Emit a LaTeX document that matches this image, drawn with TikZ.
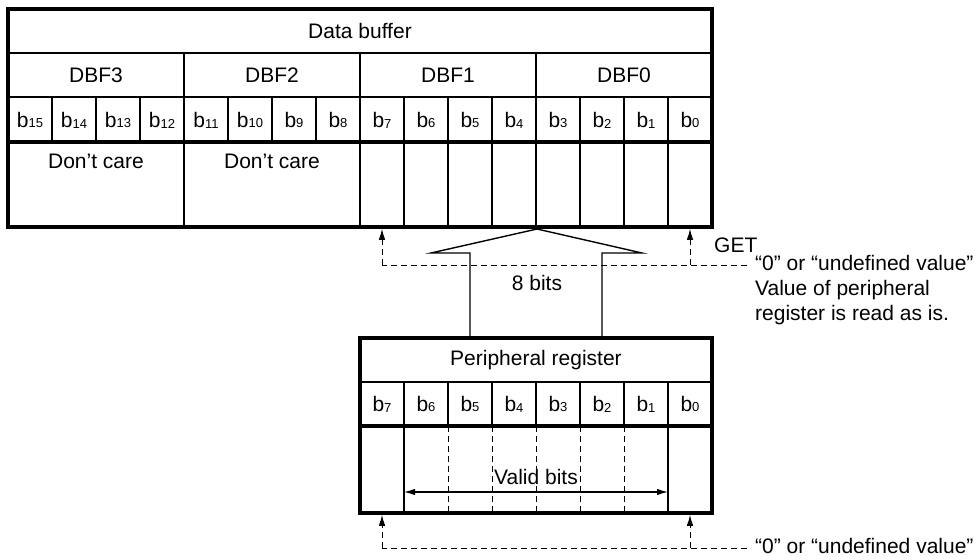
\documentclass[tikz,border=0pt]{standalone}
\usepackage{fontspec}
\setmainfont{Liberation Sans}
\usetikzlibrary{arrows.meta}

\tikzset{
  regframe/.style={line width=3.2pt, line join=miter},
  cell/.style={line width=1.2pt},
  guide/.style={line width=1pt, dash pattern=on 6pt off 4pt},
  bigarrow/.style={line width=1.4pt, line join=miter},
}
\newcommand{\bitname}[1]{b{\fontsize{13}{14}\selectfont\raisebox{-0.8pt}{#1}}}

\begin{document}
\begin{tikzpicture}[x=1pt, y=-1pt, >={Latex[length=11pt,width=6.5pt]},
    font=\fontsize{21}{25.5}\selectfont]
  \useasboundingbox (0,0) rectangle (978,560);

  % ---- data buffer ----
  \draw[cell] (8,53) -- (712,53) (8,97) -- (712,97);
  \foreach \k in {4,8,12}
    \draw[cell] ({8+44*\k},53) -- ({8+44*\k},227);
  \foreach \k in {1,2,3,5,6,7}
    \draw[cell] ({8+44*\k},97) -- ({8+44*\k},142);
  \foreach \k in {9,10,11,13,14,15}
    \draw[cell] ({8+44*\k},97) -- ({8+44*\k},227);
  \draw[regframe] (8,142) -- (712,142);
  \draw[regframe] (8,9) rectangle (712,227);

  \node (dbtitle) at (360,31) {Data buffer};
  \foreach \n [count=\c from 0] in {3,2,1,0}
    \node (dbf\n) at ({96+176*\c},75) {DBF\n};
  \foreach \i in {0,...,15}
    \node (d\i) at ({690-44*\i},120) {\bitname{\i}};
  \node (care3) at (96,161) {Don’t care};
  \node (care2) at (272,161) {Don’t care};

  % ---- peripheral register ----
  \draw[cell] (360,382) -- (712,382);
  \foreach \k in {1,...,7}
    \draw[cell] ({360+44*\k},382) -- ({360+44*\k},426);
  \draw[cell] (404,426) -- (404,513) (668,426) -- (668,513);
  \foreach \k in {2,...,6}
    \draw[guide] ({360+44*\k},426) -- ({360+44*\k},513);
  \draw[regframe] (360,426) -- (712,426);
  \draw[regframe] (360,338) rectangle (712,513);

  \node (prtitle) at (536,360) {Peripheral register};
  \foreach \i in {0,...,7}
    \node (p\i) at ({690-44*\i},404) {\bitname{\i}};

  % valid bits span b6..b1
  \coordinate (validL) at (404,492);
  \coordinate (validR) at (668,492);
  \draw[cell, <->] (validL) -- (validR);
  \node[fill=white, inner sep=0.5pt] (valid) at (536,477) {Valid bits};

  % ---- 8-bit transfer ----
  \draw[bigarrow] (470,338) -- (470,253) -- (431,253) -- (537,229)
    -- (642,253) -- (602,253) -- (602,338);
  \node (eight) at (537,283) {8 bits};

  % ---- GET: upper bits ----
  \coordinate (getE) at (747,265);
  \coordinate (getL) at (382,265);
  \coordinate (getR) at (690,265);
  \coordinate (dbL) at (382,228.8);
  \coordinate (dbR) at (690,228.8);
  \draw[guide] (getE) -- (getL);
  \draw[guide, ->] (getL) -- (dbL);
  \draw[guide, ->] (getR) -- (dbR);
  \node[anchor=base west, inner sep=0pt] (getlbl) at (714,252) {GET};
  \node[anchor=base west, inner sep=0pt] (undefA) at (755,270) {“0” or “undefined value”};
  \node[anchor=base west, inner sep=0pt] (asisA) at (755,295.5) {Value of peripheral};
  \node[anchor=base west, inner sep=0pt] (asisB) at (755,320.5) {register is read as is.};

  % ---- invalid register bits ----
  \coordinate (botE) at (747,548);
  \coordinate (botL) at (382,548);
  \coordinate (botR) at (690,548);
  \coordinate (prL) at (382,514.8);
  \coordinate (prR) at (690,514.8);
  \draw[guide] (botE) -- (botL);
  \draw[guide, ->] (botL) -- (prL);
  \draw[guide, ->] (botR) -- (prR);
  \node[anchor=base west, inner sep=0pt] (undefB) at (755,553) {“0” or “undefined value”};
\end{tikzpicture}
\end{document}
